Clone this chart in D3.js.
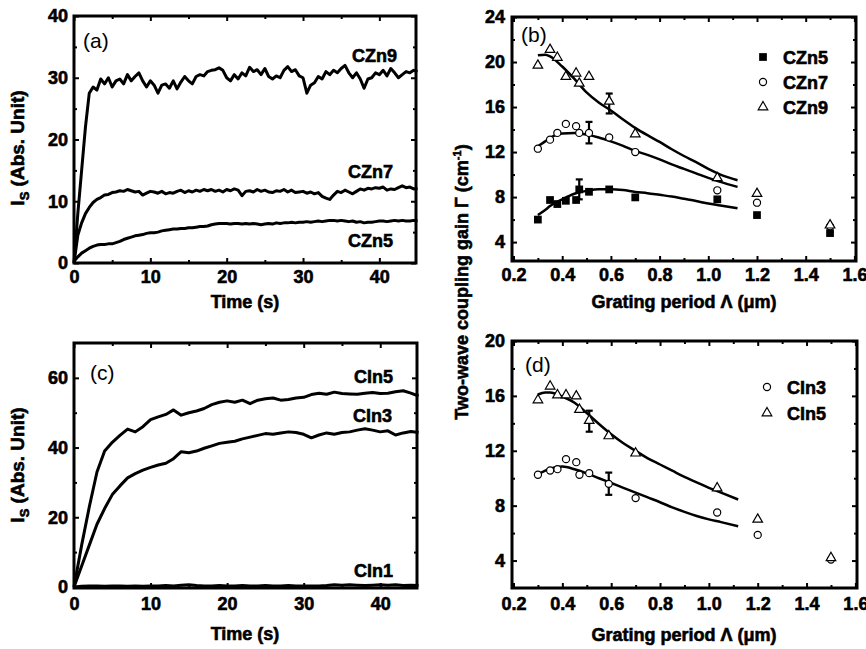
<!DOCTYPE html>
<html>
<head>
<meta charset="utf-8">
<title>Two-wave coupling</title>
<style>
  body { margin: 0; background: #fff; }
  svg text { font-family: "Liberation Sans", Arial, sans-serif; fill: #000; }
  svg text.heavy { stroke: #000; stroke-width: 0.6px; }
</style>
</head>
<body>
<div class="plot_container"></div>
<script src="https://cdn.jsdelivr.net/npm/d3@7"></script>
<script>
// ---- panel (a): signal build-up, CZn crystals (0.5 s samples)
var timeA = [0,0.5,1,1.5,2,2.5,3,3.5,4,4.5,5,5.5,6,6.5,7,7.5,8,8.5,9,9.5,10,10.5,11,11.5,12,12.5,13,13.5,14,14.5,15,15.5,16,16.5,17,17.5,18,18.5,19,19.5,20,20.5,21,21.5,22,22.5,23,23.5,24,24.5,25,25.5,26,26.5,27,27.5,28,28.5,29,29.5,30,30.5,31,31.5,32,32.5,33,33.5,34,34.5,35,35.5,36,36.5,37,37.5,38,38.5,39,39.5,40,40.5,41,41.5,42,42.5,43,43.5,44,44.5,45];
var czn9 = [0,8,15,22,27.5,28.5,28,29.8,29,30,28.5,29.5,29.8,29,30.5,29.5,30.2,30.8,29.5,28.5,29.5,28.8,27.5,28.8,29,28.3,29.5,28.2,29.3,30.2,29.5,29,30.2,30.5,30.3,31,31.2,31.3,31.6,31.2,30,29.5,30.5,29.8,30.8,30.3,31.7,31,31.3,30.5,31.5,30.2,29.8,30.3,30,31.2,31.8,31,31.3,30.3,30,27.5,28.8,29.2,30.2,29.8,31,30.5,31.2,30.8,31.5,32,30.8,30,30.8,29.8,28.3,29.8,30,30.8,30.5,31.2,30.3,31.5,30.8,30,30.5,31,30.8,31.2,31];
var czn7 = [0,4.5,6.5,8,9,9.8,10.3,10.6,11,11.1,11.4,11.5,11.7,11.6,11.9,11.7,11.5,11.6,11,11.3,11.6,11.5,11.3,11.6,11.2,11.4,11.3,11.6,11.8,11.4,11.7,11.5,11.8,11.6,11.9,11.7,11.9,11.6,11.8,11.5,11.9,11.7,12,11.8,10.9,11.6,11.7,11.5,11.9,11.6,11.8,11.5,11.4,11.7,11.6,11.9,11.5,11.8,11.4,11.5,11.6,11.3,11.5,11.2,11.4,10.8,10.5,10.3,11,11.6,11.4,11.8,11.5,11.2,11.6,12,11.8,12.1,12,12.2,12.1,12.3,11.8,12,11.9,12.2,12.5,12.2,12.3,12,12.1];
var czn5 = [0.3,1,1.6,2,2.4,2.7,2.9,3,3,3.1,3.1,3.3,3.5,3.8,4,4.2,4.4,4.5,4.6,4.8,4.9,4.9,5,5.2,5.3,5.4,5.5,5.5,5.6,5.6,5.7,5.7,5.8,5.9,5.9,6,6.2,6.3,6.4,6.4,6.4,6.3,6.4,6.4,6.3,6.4,6.3,6.4,6.3,6.2,6.3,6.4,6.3,6.5,6.4,6.5,6.5,6.6,6.5,6.6,6.6,6.7,6.6,6.7,6.8,6.7,6.8,6.9,6.9,6.8,6.9,6.8,6.7,6.8,6.6,6.7,6.5,6.6,6.6,6.7,6.8,6.8,6.7,6.8,6.9,6.8,6.9,6.8,6.8,6.9,6.8];

// ---- panel (c): signal build-up, CIn crystals (1 s samples)
var timeC = [0,1,2,3,4,5,6,7,8,9,10,11,12,13,14,15,16,17,18,19,20,21,22,23,24,25,26,27,28,29,30,31,32,33,34,35,36,37,38,39,40,41,42,43,44,45];
var cin5 = [0,12,23,33,39,41.5,43.5,45.3,44.5,46,48,48.8,49.5,50.8,49.3,50,50.5,51.2,52.3,53,53.4,53,53.6,52.6,53.6,54,54.2,53.6,53.8,54.2,54.4,55.2,55.6,55.3,55.9,55.5,55.4,55.3,55.6,55.8,55.5,55.6,56,56.3,55.6,54.8];
var cin3 = [0,6,12,18,22.5,26.5,29,31.3,32.5,33.5,34.3,35,35.5,36.8,38.8,38.5,39,39.8,40.5,41.2,41.5,41.8,42.5,43,43.5,44,43.8,44.2,44.5,44.3,43.8,42.8,43.6,44.2,43.8,44.3,44.5,45,45.4,45,44.5,44.8,43.6,44.2,44.6,44.3];
var cin1 = [0,0.2,0.3,0.3,0.2,0.3,0.3,0.2,0.3,0.2,0.3,0.3,0.4,0.3,0.5,0.6,0.4,0.3,0.3,0.4,0.3,0.3,0.4,0.3,0.3,0.4,0.3,0.3,0.4,0.3,0.3,0.3,0.3,0.4,0.6,0.5,0.6,0.5,0.4,0.5,0.6,0.5,0.6,0.4,0.5,0.4];

// ---- panel (b): gain vs grating period, CZn
var periodB = [0.30,0.35,0.38,0.415,0.457,0.47,0.51,0.593,0.70,1.037,1.20,1.50];
var gainCZn5 = [6.0,7.74,7.38,7.67,7.74,8.68,8.47,8.68,7.97,7.8,6.4,4.8];
var gainCZn7 = [12.3,13.1,13.7,14.5,14.3,13.7,13.7,13.3,12.0,8.6,7.5,5.4];
var gainCZn9 = [19.7,21.1,20.4,18.7,19.0,18.1,18.7,16.5,13.6,9.7,8.3,5.5];
var fitX = [0.30,0.33,0.35,0.40,0.45,0.50,0.55,0.60,0.65,0.70,0.75,0.80,0.85,0.90,0.95,1.00,1.05,1.12];
var fitCZn9 = [20.6,20.65,20.5,19.6,18.5,17.3,16.4,15.7,14.9,14.15,13.5,12.9,12.25,11.65,11.1,10.5,10.0,9.5];
var fitCZn7 = [12.5,12.95,13.25,13.65,13.7,13.55,13.3,12.95,12.55,12.1,11.75,11.35,10.9,10.5,10.1,9.7,9.35,8.9];
var fitCZn5 = [6.4,6.85,7.2,7.8,8.3,8.55,8.7,8.7,8.62,8.45,8.35,8.2,8.05,7.85,7.65,7.42,7.25,7.0];
var errBx = [0.593,0.51,0.47];
var errBlo = [15.43,12.77,7.8];
var errBhi = [17.2,14.68,9.57];

// ---- panel (d): gain vs grating period, CIn
var periodD = [0.30,0.35,0.38,0.415,0.457,0.47,0.51,0.59,0.70,1.034,1.20,1.50];
var gainCIn3 = [10.25,10.56,10.66,11.39,11.17,10.25,10.37,9.59,8.55,7.5,5.87,4.07];
var gainCIn5 = [15.7,16.7,16.06,16.06,15.98,15.0,14.2,13.08,11.82,9.28,7.0,4.2];
var fitCIn5 = [16.1,16.25,16.25,15.95,15.5,14.75,13.95,13.2,12.55,12.0,11.45,11.0,10.55,10.1,9.7,9.3,8.95,8.45];
var fitCIn3 = [10.3,10.55,10.7,10.85,10.65,10.35,10.0,9.65,9.3,8.95,8.6,8.25,7.88,7.55,7.25,7.0,6.8,6.5];
var errDx = [0.51,0.59];
var errDlo = [13.39,8.79];
var errDhi = [14.92,10.41];

var timeTicks = [0,10,20,30,40];
var periodTicks = [0.2,0.4,0.6,0.8,1.0,1.2,1.4,1.6];

var width = 866, height = 649;
var svg = d3.select(".plot_container").append("svg")
    .attr("width", width)
    .attr("height", height);

var FONT = 18;

function makePanel(c) {
    var x = d3.scaleLinear().domain(c.xd).range([c.left, c.right]);
    var y = d3.scaleLinear().domain(c.yd).range([c.bottom, c.top]);
    var g = svg.append("g");

    // ticks on all four sides, pointing inward
    function side(axis, tr, vals, size, labels, pad) {
        var a = axis.tickValues(vals).tickSizeInner(-size).tickSizeOuter(0).tickPadding(pad || 0);
        a.tickFormat(labels ? labels : function() { return ""; });
        var s = g.append("g").attr("transform", tr).call(a);
        s.select(".domain").remove();
        s.selectAll("line").attr("stroke", "#000").attr("stroke-width", 2);
        s.selectAll("text").attr("font-size", FONT).attr("font-weight", "bold")
            .attr("class", "heavy")
            .attr("font-family", "'Liberation Sans', Arial, sans-serif");
        return s;
    }
    side(d3.axisBottom(x), "translate(0," + c.bottom + ")", c.xticks, 5, c.xfmt, c.xpad);
    side(d3.axisBottom(x), "translate(0," + c.bottom + ")", c.xminor, 3);
    side(d3.axisTop(x), "translate(0," + c.top + ")", c.xticks, 5);
    side(d3.axisTop(x), "translate(0," + c.top + ")", c.xminor, 3);
    side(d3.axisLeft(y), "translate(" + c.left + ",0)", c.yticks, 5, c.yfmt, c.ypad);
    side(d3.axisLeft(y), "translate(" + c.left + ",0)", c.yminor, 3);
    side(d3.axisRight(y), "translate(" + c.right + ",0)", c.yticks, 5);
    side(d3.axisRight(y), "translate(" + c.right + ",0)", c.yminor, 3);

    g.append("rect")
        .attr("x", c.left).attr("y", c.top)
        .attr("width", c.right - c.left).attr("height", c.bottom - c.top)
        .attr("fill", "none").attr("stroke", "#000").attr("stroke-width", 3);

    g.append("text")
        .attr("x", c.tagX).attr("y", c.tagY)
        .attr("font-size", 21)
        .text(c.tag);

    return {x: x, y: y, g: g};
}

function drawTrace(p, xs, ys, sw) {
    var line = d3.line()
        .x(function(d) { return p.x(d[0]); })
        .y(function(d) { return p.y(d[1]); });
    p.g.append("path")
        .datum(d3.zip(xs, ys))
        .attr("d", line)
        .attr("fill", "none")
        .attr("stroke", "#000")
        .attr("stroke-width", sw)
        .attr("stroke-linejoin", "round");
}

function drawFit(p, xs, ys) {
    var line = d3.line()
        .curve(d3.curveMonotoneX)
        .x(function(d) { return p.x(d[0]); })
        .y(function(d) { return p.y(d[1]); });
    p.g.append("path")
        .datum(d3.zip(xs, ys))
        .attr("d", line)
        .attr("fill", "none")
        .attr("stroke", "#000")
        .attr("stroke-width", 2.5);
}

function marker(sel, kind) {
    if (kind == "square") {
        sel.attr("d", d3.symbol(d3.symbolSquare, 60)()).attr("fill", "#000").attr("stroke", "none");
    } else if (kind == "circle") {
        sel.attr("d", d3.symbol(d3.symbolCircle, 40)()).attr("fill", "#fff").attr("stroke", "#000").attr("stroke-width", 1.2);
    } else {
        sel.attr("d", d3.symbol(d3.symbolTriangle, 40)()).attr("fill", "#fff").attr("stroke", "#000").attr("stroke-width", 1.2);
    }
}

function drawPoints(p, xs, ys, kind) {
    p.g.append("g").selectAll("path")
        .data(d3.zip(xs, ys))
        .enter()
        .append("path")
        .attr("transform", function(d) { return "translate(" + p.x(d[0]) + "," + p.y(d[1]) + ")"; })
        .call(marker, kind);
}

function drawErrors(p, xs, lo, hi) {
    var eg = p.g.append("g").attr("stroke", "#000").attr("stroke-width", 2.2);
    xs.forEach(function(v, i) {
        var cx = p.x(v);
        eg.append("line").attr("x1", cx).attr("x2", cx).attr("y1", p.y(lo[i])).attr("y2", p.y(hi[i]));
        eg.append("line").attr("x1", cx - 3.5).attr("x2", cx + 3.5).attr("y1", p.y(lo[i])).attr("y2", p.y(lo[i]));
        eg.append("line").attr("x1", cx - 3.5).attr("x2", cx + 3.5).attr("y1", p.y(hi[i])).attr("y2", p.y(hi[i]));
    });
}

function label(x, y, txt, anchor) {
    return svg.append("text")
        .attr("x", x).attr("y", y)
        .attr("class", "heavy")
        .attr("text-anchor", anchor || "start")
        .attr("font-size", FONT).attr("font-weight", "bold")
        .text(txt);
}

function legend(p, x, y, kind, txt) {
    p.g.append("path").attr("transform", "translate(" + x + "," + y + ")").call(marker, kind);
    label(x + 20, y + 6.5, txt);
}

var fmtInt = d3.format("d");
var fmtPer = d3.format(".1f");

// (a)
var pa = makePanel({
    left: 74, right: 416, top: 16, bottom: 263,
    xd: [0, 44.8], yd: [0, 40],
    xticks: timeTicks, xminor: [5,15,25,35],
    yticks: [0,10,20,30,40], yminor: [5,15,25,35],
    xfmt: fmtInt, yfmt: fmtInt, xpad: 7, ypad: 6,
    tag: "(a)", tagX: 83, tagY: 48
});
drawTrace(pa, timeA, czn5, 3);
drawTrace(pa, timeA, czn7, 3);
drawTrace(pa, timeA, czn9, 3);
label(397, 62, "CZn9", "end");
label(393, 178, "CZn7", "end");
label(393, 247, "CZn5", "end");

// (c)
var pc = makePanel({
    left: 74, right: 417, top: 343, bottom: 588,
    xd: [0, 44.8], yd: [-0.3, 70],
    xticks: timeTicks, xminor: [5,15,25,35],
    yticks: [0,20,40,60], yminor: [10,30,50],
    xfmt: fmtInt, yfmt: fmtInt, xpad: 9, ypad: 6,
    tag: "(c)", tagX: 90, tagY: 380
});
drawTrace(pc, timeC, cin1, 3);
drawTrace(pc, timeC, cin3, 3);
drawTrace(pc, timeC, cin5, 3);
label(393, 383, "CIn5", "end");
label(392, 422, "CIn3", "end");
label(393, 577, "CIn1", "end");

// (b)
var pb = makePanel({
    left: 512, right: 856, top: 17, bottom: 261,
    xd: [0.1938, 1.6066], yd: [2.32, 24],
    xticks: periodTicks, xminor: [0.3,0.5,0.7,0.9,1.1,1.3,1.5],
    yticks: [4,8,12,16,20,24], yminor: [6,10,14,18,22],
    xfmt: fmtPer, yfmt: fmtInt, xpad: 7, ypad: 7,
    tag: "(b)", tagX: 521, tagY: 42
});
drawFit(pb, fitX, fitCZn9);
drawFit(pb, fitX, fitCZn7);
drawFit(pb, fitX, fitCZn5);
drawErrors(pb, errBx, errBlo, errBhi);
drawPoints(pb, periodB, gainCZn5, "square");
drawPoints(pb, periodB, gainCZn7, "circle");
drawPoints(pb, periodB, gainCZn9, "triangle");
legend(pb, 763, 57, "square", "CZn5");
legend(pb, 763, 82, "circle", "CZn7");
legend(pb, 763, 107, "triangle", "CZn9");

// (d)
var pd = makePanel({
    left: 512, right: 857, top: 341, bottom: 588,
    xd: [0.1938, 1.6066], yd: [2.0, 20],
    xticks: periodTicks, xminor: [0.3,0.5,0.7,0.9,1.1,1.3,1.5],
    yticks: [4,8,12,16,20], yminor: [6,10,14,18],
    xfmt: fmtPer, yfmt: fmtInt, xpad: 9, ypad: 7,
    tag: "(d)", tagX: 525, tagY: 372
});
drawFit(pd, fitX, fitCIn5);
drawFit(pd, fitX, fitCIn3);
drawErrors(pd, errDx, errDlo, errDhi);
drawPoints(pd, periodD, gainCIn3, "circle");
drawPoints(pd, periodD, gainCIn5, "triangle");
legend(pd, 767, 387, "circle", "CIn3");
legend(pd, 767, 413, "triangle", "CIn5");

// axis titles
label(245, 308, "Time (s)", "middle");
label(245, 640, "Time (s)", "middle");
label(684, 308, "Grating period \u039B (\u03BCm)", "middle");
label(684, 641, "Grating period \u039B (\u03BCm)", "middle");

function ylabelIs(cx, cy) {
    var t = svg.append("text")
        .attr("transform", "translate(" + cx + "," + cy + ") rotate(-90)")
        .attr("class", "heavy")
        .attr("text-anchor", "middle")
        .attr("font-size", 19).attr("font-weight", "bold");
    t.append("tspan").text("I");
    t.append("tspan").attr("font-size", 13).attr("dy", 5).text("S");
    t.append("tspan").attr("dy", -5).text(" (Abs. Unit)");
}
ylabelIs(24, 148);
ylabelIs(24, 465);

var gl = svg.append("text")
    .attr("transform", "translate(468,282) rotate(-90)")
    .attr("class", "heavy")
    .attr("text-anchor", "middle")
    .attr("font-size", FONT).attr("font-weight", "bold");
gl.append("tspan").text("Two-wave coupling gain \u0393 (cm");
gl.append("tspan").attr("font-size", 11).attr("dy", -7).text("-1");
gl.append("tspan").attr("dy", 7).text(")");
</script>
</body>
</html>
